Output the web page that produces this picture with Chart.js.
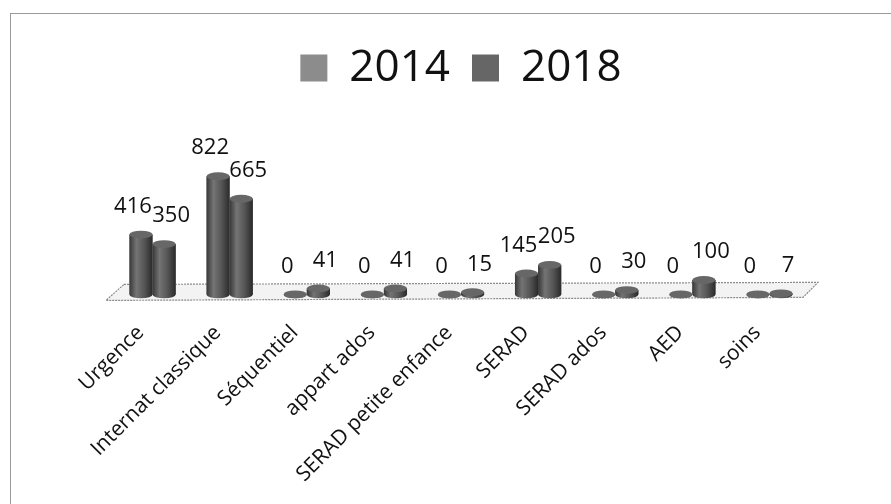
<!DOCTYPE html>
<html lang="fr">
    <head>
        <meta charset="UTF-8" />
        <title>2014 / 2018</title>
        <style>
            body {
                margin: 0;
                background: #fff;
                overflow: hidden;
                font-family: "Open Sans", sans-serif;
            }
            .frame {
                position: absolute;
                left: 10px;
                top: 13px;
                width: 881px;
                height: 491px;
                border-top: 1px solid #9a9a9a;
                border-left: 1px solid #9a9a9a;
            }
            .chart-box {
                position: absolute;
                left: 11px;
                top: 14px;
                width: 880px;
                height: 500px;
            }
        </style>
    </head>
    <body>
        <div class="frame"></div>
        <div class="chart-box">
            <canvas id="chart"></canvas>
        </div>

        <script src="https://cdn.jsdelivr.net/npm/chart.js"></script>
        <script>
            const categories = [
                "Urgence",
                "Internat classique",
                "Séquentiel",
                "appart ados",
                "SERAD petite enfance",
                "SERAD",
                "SERAD ados",
                "AED",
                "soins",
            ]
            const values2014 = [416, 822, 0, 0, 0, 145, 0, 0, 0]
            const values2018 = [350, 665, 41, 41, 15, 205, 30, 100, 7]
            const seriesNames = ["2014", "2018"]

            const legendColors = ["#8c8c8c", "#666666"]

            // plancher 3D sous les barres
            const floorPlugin = {
                id: "floor",
                beforeDatasetsDraw(chart) {
                    const { ctx, chartArea } = chart
                    const y0 = chart.scales.y.getPixelForValue(0)
                    const l = chartArea.left
                    const r = chartArea.right
                    ctx.save()
                    ctx.beginPath()
                    ctx.moveTo(l + 10, y0 - 10)
                    ctx.lineTo(r + 10, y0 - 12)
                    ctx.lineTo(r - 5, y0 + 3)
                    ctx.lineTo(l - 8, y0 + 6)
                    ctx.closePath()
                    ctx.fillStyle = "#f3f3f3"
                    ctx.fill()
                    ctx.strokeStyle = "#8a8a8a"
                    ctx.lineWidth = 1.2
                    ctx.setLineDash([2, 1])
                    ctx.stroke()
                    ctx.restore()
                },
            }

            // cylindres + étiquettes
            const cylinderPlugin = {
                id: "cylinders",
                afterDatasetsDraw(chart) {
                    const ctx = chart.ctx
                    chart.data.datasets.forEach((ds, di) => {
                        const meta = chart.getDatasetMeta(di)
                        meta.data.forEach((bar, i) => {
                            const p = bar.getProps(["x", "y", "base", "width"], true)
                            const rx = p.width / 2
                            const ry = p.width * 0.17
                            const left = p.x - rx
                            const g = ctx.createLinearGradient(left, 0, left + p.width, 0)
                            g.addColorStop(0, "#383838")
                            g.addColorStop(0.3, "#747474")
                            g.addColorStop(0.65, "#555")
                            g.addColorStop(1, "#2a2a2a")
                            ctx.save()
                            ctx.fillStyle = g
                            ctx.beginPath()
                            ctx.moveTo(left, p.y)
                            ctx.lineTo(left, p.base)
                            ctx.ellipse(p.x, p.base, rx, ry, 0, Math.PI, 0, true)
                            ctx.lineTo(left + p.width, p.y)
                            ctx.closePath()
                            ctx.fill()
                            ctx.beginPath()
                            ctx.ellipse(p.x, p.y, rx, ry, 0, 0, Math.PI * 2)
                            ctx.fillStyle = "#676767"
                            ctx.fill()
                            ctx.restore()

                            // étiquette de valeur
                            const dx = di === 0 ? -8 : 7
                            ctx.save()
                            ctx.fillStyle = "#111"
                            ctx.font = '22px "Open Sans"'
                            ctx.textAlign = "center"
                            ctx.textBaseline = "middle"
                            ctx.fillText(String(ds.data[i]), p.x + dx, p.y - 28)
                            ctx.restore()
                        })
                    })
                },
            }

            new Chart(document.getElementById("chart"), {
                type: "bar",
                data: {
                    labels: categories,
                    datasets: [
                        {
                            label: seriesNames[0],
                            data: values2014,
                            backgroundColor: legendColors[0],
                        },
                        {
                            label: seriesNames[1],
                            data: values2018,
                            backgroundColor: legendColors[1],
                        },
                    ],
                },
                options: {
                    responsive: true,
                    maintainAspectRatio: false,
                    animation: false,
                    categoryPercentage: 0.6,
                    barPercentage: 1.0,
                    layout: {
                        padding: { top: 10, left: 103, right: 83, bottom: 9 },
                    },
                    scales: {
                        x: {
                            grid: { display: false },
                            border: { display: false },
                            ticks: {
                                color: "#111",
                                font: { family: "Open Sans", size: 21 },
                                minRotation: 45,
                                maxRotation: 45,
                                padding: 18,
                                labelOffset: -12,
                            },
                        },
                        y: {
                            display: false,
                            min: 0,
                            max: 1352,
                        },
                    },
                    plugins: {
                        legend: {
                            position: "top",
                            labels: {
                                color: "#111",
                                font: { family: "Open Sans", size: 44 },
                                boxWidth: 27,
                                boxHeight: 27,
                                padding: 22,
                            },
                        },
                        tooltip: { enabled: false },
                    },
                },
                plugins: [floorPlugin, cylinderPlugin],
            })
        </script>
    </body>
</html>
